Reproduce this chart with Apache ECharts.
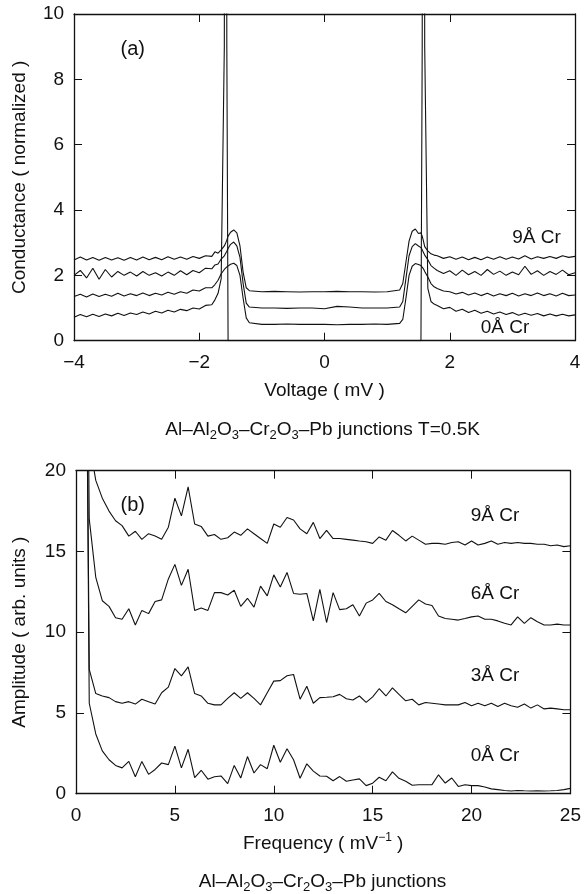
<!DOCTYPE html>
<html><head><meta charset="utf-8">
<script src="https://cdn.jsdelivr.net/npm/echarts@6/dist/echarts.min.js"></script>
<style>html,body{margin:0;padding:0;background:#fff}#c{width:584px;height:894px}</style>
</head><body><div id="c"></div>
<script>
// ---------- Panel (a): conductance vs voltage ----------
const voltage = [
  -4.0,-3.9,-3.8,-3.7,-3.6,-3.5,-3.4,-3.3,-3.2,-3.1,-3.0,-2.9,-2.8,-2.7,-2.6,-2.5,-2.4,-2.3,-2.2,-2.1,-2.0,-1.9,-1.8,
  -1.75,-1.7,-1.65,-1.6,-1.58,-1.56,-1.54,-1.5,-1.45,-1.4,-1.35,-1.3,-1.25,-1.2,
  -1.0,-0.8,-0.6,-0.4,-0.2,0,0.2,0.4,0.6,0.8,1.0,
  1.2,1.25,1.3,1.35,1.4,1.45,1.5,1.54,1.56,1.58,1.6,1.65,1.7,1.75,
  1.8,1.9,2.0,2.1,2.2,2.3,2.4,2.5,2.6,2.7,2.8,2.9,3.0,3.1,3.2,3.3,3.4,3.5,3.6,3.7,3.8,3.9,4.0
];
const cond9A = [
  2.47,2.56,2.47,2.55,2.46,2.55,2.47,2.54,2.46,2.55,2.47,2.56,2.48,2.55,2.48,2.57,2.49,2.56,2.49,2.58,2.52,2.60,2.58,
  2.72,2.68,2.78,2.90,2.98,3.08,3.20,3.32,3.39,3.30,2.90,2.10,1.62,1.53,
  1.50,1.51,1.50,1.49,1.50,1.50,1.51,1.50,1.50,1.49,1.50,
  1.55,1.75,2.40,3.05,3.35,3.42,3.28,3.30,3.20,3.05,2.88,2.75,2.66,2.62,
  2.60,2.52,2.57,2.49,2.56,2.48,2.55,2.48,2.56,2.49,2.57,2.49,2.56,2.50,2.60,2.50,2.57,2.52,2.58,2.52,2.60,2.55,2.58
];
const cond6A = [
  2.00,2.15,1.92,2.22,1.88,2.18,1.95,2.12,2.00,2.10,1.98,2.12,2.00,2.08,1.98,2.10,2.00,2.14,2.02,2.15,2.08,2.22,2.20,
  2.32,2.35,2.50,2.60,2.66,2.74,2.82,2.95,3.02,2.90,2.55,1.75,1.15,1.03,
  1.00,1.00,0.99,1.00,1.00,0.98,1.05,1.03,1.00,1.00,1.00,
  1.03,1.20,1.90,2.60,2.88,2.97,2.90,2.85,2.78,2.70,2.62,2.48,2.30,2.22,
  2.15,2.06,2.14,2.00,2.16,2.02,2.12,2.00,2.18,2.03,2.13,2.00,2.10,2.02,2.28,2.03,2.14,2.00,2.12,2.03,2.16,2.02,2.08
];
const cond3A = [
  1.35,1.42,1.34,1.43,1.35,1.42,1.36,1.45,1.37,1.44,1.38,1.46,1.38,1.45,1.40,1.48,1.42,1.50,1.45,1.55,1.52,1.62,1.62,
  1.72,1.85,2.05,2.18,2.22,2.26,2.30,2.34,2.37,2.30,2.00,1.30,0.70,0.55,
  0.50,0.50,0.51,0.50,0.50,0.50,0.49,0.50,0.50,0.51,0.50,
  0.53,0.65,1.30,2.00,2.28,2.36,2.33,2.30,2.25,2.20,2.12,1.95,1.75,1.65,
  1.60,1.52,1.50,1.43,1.48,1.40,1.46,1.38,1.45,1.37,1.44,1.38,1.45,1.37,1.44,1.38,1.46,1.38,1.44,1.37,1.45,1.38,1.40
];
const cond0A = [
  0.72,0.80,0.73,0.81,0.74,0.82,0.76,0.84,0.77,0.85,0.80,0.88,0.82,0.90,0.85,0.93,0.88,0.96,0.92,1.00,0.97,1.08,1.10,
  1.25,1.45,1.90,9.0,40.0,9.0,0,0,0,0,0,0,0,0,
  0,0,0,0,0,0,0,0,0,0,0,
  0,0,0,0,0,0,0,0,9.0,40.0,9.0,1.60,1.20,1.12,
  1.08,0.98,1.02,0.90,0.96,0.86,0.93,0.84,0.90,0.82,0.88,0.80,0.86,0.78,0.84,0.78,0.83,0.76,0.82,0.76,0.81,0.76,0.79
];

// ---------- Panel (b): Fourier amplitude vs frequency ----------
const frequency = [
  0.33,0.67,1.00,1.33,1.67,2.00,2.33,2.67,3.00,3.33,3.67,4.00,4.33,4.67,5.00,5.33,5.67,6.00,6.33,6.67,
  7.00,7.33,7.67,8.00,8.33,8.67,9.00,9.33,9.67,10.00,10.33,10.67,11.00,11.33,11.67,12.00,12.33,12.67,13.00,13.33,
  13.67,14.00,14.33,14.67,15.00,15.33,15.67,16.00,16.33,16.67,17.00,17.33,17.67,18.00,18.33,18.67,19.00,19.33,19.67,20.00,
  20.33,20.67,21.00,21.33,21.67,22.00,22.33,22.67,23.00,23.33,23.67,24.00,24.33,24.67,25.00
];
const amp9A = [
  60,21.8,19.4,18.3,17.5,16.9,16.6,15.95,16.25,15.75,16.1,15.95,15.75,16.5,18.3,17.2,19.0,16.7,16.55,15.95,
  16.05,15.75,15.85,16.2,16.0,16.4,16.1,15.8,15.5,16.7,16.5,17.1,16.95,16.4,16.1,16.8,15.8,16.3,15.8,15.8,
  15.75,15.7,15.65,15.6,15.5,15.9,15.7,16.3,16.0,15.65,15.95,15.7,15.45,15.5,15.5,15.45,15.55,15.6,15.4,15.65,
  15.4,15.5,15.65,15.45,15.55,15.5,15.55,15.5,15.5,15.45,15.45,15.35,15.4,15.3,15.35
];
const amp6A = [
  60,17.0,13.4,11.95,11.6,10.9,10.8,11.45,10.45,11.35,11.15,11.9,12.0,13.3,14.2,12.9,13.9,11.35,11.5,11.35,
  12.45,12.45,12.3,12.6,11.6,12.1,11.55,12.85,12.25,13.55,12.8,13.7,12.4,12.35,12.4,10.7,12.65,10.6,12.45,11.4,
  11.45,11.7,11.0,11.8,12.0,12.4,11.9,11.7,11.45,11.2,11.6,12.0,11.75,11.65,11.0,10.85,10.8,10.75,10.85,10.95,
  11.0,10.8,10.8,10.7,10.55,10.45,10.95,10.55,10.9,10.65,10.45,10.45,10.5,10.45,10.45
];
const amp3A = [
  60,7.7,6.2,6.05,5.95,5.7,5.6,5.7,5.55,5.85,5.7,5.55,6.25,6.6,7.75,7.3,7.85,6.2,6.05,5.6,
  5.5,5.5,5.9,6.25,5.9,6.25,5.9,5.5,6.25,6.97,7.0,7.3,7.38,5.85,6.65,5.6,5.95,5.97,6.0,6.15,
  5.88,5.8,6.05,5.65,6.0,6.5,6.05,6.55,6.15,5.75,5.85,5.5,5.65,5.6,5.55,5.5,5.5,5.5,5.65,5.45,
  5.6,5.45,5.6,5.4,5.6,5.45,5.35,5.55,5.3,5.5,5.25,5.3,5.25,5.2,5.2
];
const amp0A = [
  60,5.6,3.7,2.65,2.1,1.75,1.6,2.0,1.05,2.0,1.2,1.5,1.9,1.8,2.95,1.6,2.75,1.0,1.45,0.9,
  1.05,1.1,0.62,1.75,0.97,2.3,1.28,1.8,1.55,3.0,1.95,2.78,2.1,0.96,1.85,1.4,1.1,1.08,0.8,1.06,
  0.77,0.85,0.92,0.5,0.65,1.02,0.8,1.35,0.95,0.77,0.52,0.55,0.55,0.56,1.17,0.66,0.97,0.45,0.55,0.5,
  0.5,0.42,0.3,0.25,0.2,0.17,0.2,0.18,0.17,0.18,0.17,0.18,0.2,0.25,0.33
];

const labelsA = ['9Å Cr', '0Å Cr'];
const labelsB = ['9Å Cr', '6Å Cr', '3Å Cr', '0Å Cr'];

const FONT = "'Liberation Sans', Arial, Helvetica, sans-serif";
const INK = '#111';

function zip(xs, ys) { return xs.map((x, i) => [x, ys[i]]); }

function axisPair(dir, g, min, max, interval, name, nameGap, showLabel, pos) {
  return {
    type: 'value', gridIndex: g, min: min, max: max, interval: interval, position: pos,
    axisLine: { show: true, onZero: false, lineStyle: { color: INK, width: 1.3 } },
    axisTick: { show: true, inside: true, length: 8, lineStyle: { color: INK, width: 1 } },
    axisLabel: { show: showLabel, color: INK, fontSize: 19, fontFamily: FONT, margin: dir === 'x' ? 13 : 10,
      formatter: function (v) { return String(v).replace('-', '−'); } },
    splitLine: { show: false },
    name: showLabel ? name : '', nameLocation: 'middle', nameGap: nameGap,
    nameTextStyle: { color: INK, fontSize: 19, fontFamily: FONT, lineHeight: 24,
      rich: { sup: { fontSize: 12, fontFamily: FONT, color: INK, verticalAlign: 'top', lineHeight: 12 } } }
  };
}

const chart = echarts.init(document.getElementById('c'), null, { renderer: 'canvas' });

function line(x, y, xi, yi) {
  return { type: 'line', data: zip(x, y), xAxisIndex: xi, yAxisIndex: yi, showSymbol: false,
    symbol: 'none', clip: true, lineStyle: { color: INK, width: 1.1 }, animation: false, z: 3 };
}

function txt(x, y, text, size) {
  return { type: 'text', x: x, y: y, z: 10,
    style: { text: text, fill: INK, fontSize: size || 19, fontFamily: FONT,
      textAlign: 'center', textVerticalAlign: 'middle', align: 'center', verticalAlign: 'middle',
      lineHeight: 24,
      rich: { s: { fontSize: 13, fontFamily: FONT, fill: INK, verticalAlign: 'bottom', lineHeight: 13 } } } };
}

const option = {
  backgroundColor: '#fff',
  animation: false,
  grid: [
    { left: 70.3, top: 14, width: 504.7, height: 326.7 },
    { left: 72.7, top: 470.7, width: 500.3, height: 323 }
  ],
  xAxis: [
    axisPair('x', 0, -4, 4, 2, 'Voltage ( mV )', 38, true, 'bottom'),
    axisPair('x', 0, -4, 4, 2, '', 0, false, 'top'),
    axisPair('x', 1, 0, 25, 5, 'Frequency ( mV{sup|−1} )', 38, true, 'bottom'),
    axisPair('x', 1, 0, 25, 5, '', 0, false, 'top')
  ],
  yAxis: [
    axisPair('y', 0, 0, 10, 2, 'Conductance ( normalized )', 42, true, 'left'),
    axisPair('y', 0, 0, 10, 2, '', 0, false, 'right'),
    axisPair('y', 1, 0, 20, 5, 'Amplitude ( arb. units )', 44, true, 'left'),
    axisPair('y', 1, 0, 20, 5, '', 0, false, 'right')
  ],
  series: [
    line(voltage, cond9A, 0, 0),
    line(voltage, cond6A, 0, 0),
    line(voltage, cond3A, 0, 0),
    line(voltage, cond0A, 0, 0),
    line(frequency, amp9A, 2, 2),
    line(frequency, amp6A, 2, 2),
    line(frequency, amp3A, 2, 2),
    line(frequency, amp0A, 2, 2)
  ],
  graphic: [
    txt(132.7, 49.5, '(a)', 20),
    txt(536.5, 238, labelsA[0]),
    txt(505, 328, labelsA[1]),
    txt(322.6, 430, 'Al–Al{s|2}O{s|3}–Cr{s|2}O{s|3}–Pb junctions T=0.5K'),
    txt(132.7, 505, '(b)', 20),
    txt(495, 516, labelsB[0]),
    txt(495, 594, labelsB[1]),
    txt(495, 676, labelsB[2]),
    txt(495, 756, labelsB[3]),
    txt(322.6, 881.5, 'Al–Al{s|2}O{s|3}–Cr{s|2}O{s|3}–Pb junctions')
  ]
};
chart.setOption(option);
</script>
</body></html>
